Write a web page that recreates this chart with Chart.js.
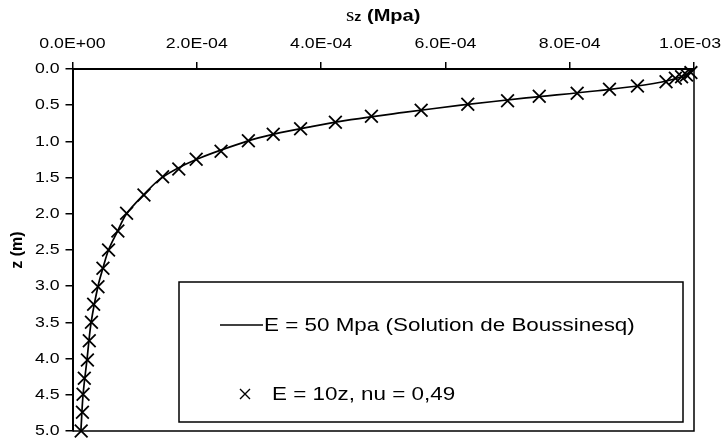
<!DOCTYPE html>
<html><head><meta charset="utf-8">
<script src="https://cdn.jsdelivr.net/npm/chart.js@4.4.0/dist/chart.umd.min.js"></script>
<style>html,body{margin:0;padding:0;background:#fff}</style>
</head><body>
<canvas id="c" width="722" height="444"></canvas>
<script>
const seriesNames = ['E = 50 Mpa (Solution de Boussinesq)', 'E = 10z, nu = 0,49'];
// Boussinesq solution (line): depth z (m) and stress (MPa)
const lineZ = [0, 0.1, 0.2, 0.3, 0.4, 0.5, 0.6, 0.7, 0.8, 0.9, 1.0, 1.25, 1.5, 1.75, 2.0, 2.25, 2.5, 2.75, 3.0, 3.5, 4.0, 4.5, 5.0];
const lineS = [1.0e-3, 9.82e-4, 9.35e-4, 8.45e-4, 7.30e-4, 6.25e-4, 5.33e-4, 4.48e-4, 3.82e-4, 3.24e-4, 2.80e-4, 1.99e-4, 1.44e-4, 1.13e-4, 0.87e-4, 0.72e-4, 0.58e-4, 0.49e-4, 0.41e-4, 0.30e-4, 0.235e-4, 0.17e-4, 0.135e-4];
// E = 10z model (crosses)
const crossZ = [0.05, 0.083, 0.106, 0.128, 0.175, 0.235, 0.28, 0.336, 0.377, 0.438, 0.488, 0.57, 0.653, 0.736, 0.825, 0.902, 0.99, 1.135, 1.247, 1.381, 1.488, 1.74, 1.993, 2.238, 2.5, 2.753, 3.007, 3.25, 3.499, 3.753, 4.019, 4.272, 4.493, 4.742, 5.0];
const crossS = [9.95e-4, 9.88e-4, 9.80e-4, 9.70e-4, 9.55e-4, 9.09e-4, 8.64e-4, 8.12e-4, 7.51e-4, 7.00e-4, 6.36e-4, 5.61e-4, 4.81e-4, 4.23e-4, 3.67e-4, 3.23e-4, 2.83e-4, 2.39e-4, 1.99e-4, 1.71e-4, 1.45e-4, 1.15e-4, 0.87e-4, 0.73e-4, 0.58e-4, 0.49e-4, 0.41e-4, 0.34e-4, 0.305e-4, 0.27e-4, 0.24e-4, 0.19e-4, 0.17e-4, 0.16e-4, 0.14e-4];
const xTickValues = [0, 2e-4, 4e-4, 6e-4, 8e-4, 1e-3];
const xTickLabels = ['0.0E+00', '2.0E-04', '4.0E-04', '6.0E-04', '8.0E-04', '1.0E-03'];
const yTickValues = [0, 0.5, 1, 1.5, 2, 2.5, 3, 3.5, 4, 4.5, 5];
const yTickLabels = ['0.0', '0.5', '1.0', '1.5', '2.0', '2.5', '3.0', '3.5', '4.0', '4.5', '5.0'];

const FONT = "'Liberation Sans', Arial, sans-serif";
const SX = 1.18; // horizontal text stretch seen in the reference

const canvas = document.getElementById('c');
const c2d = canvas.getContext('2d');
const _fillText = c2d.fillText;
c2d.fillText = function (t, x, y, mw) {
  const m = this.getTransform();
  if (Math.abs(m.b) > 1e-6 || Math.abs(m.c) > 1e-6) return _fillText.call(this, t, x, y, mw);
  // keep text inside the canvas (the original pulls edge labels inward)
  const w = this.measureText(String(t)).width * SX;
  const al = this.textAlign;
  const left = (al === 'center') ? x - w / 2 : (al === 'right' || al === 'end') ? x - w : x;
  const rightDev = m.a * (left + w) + m.e;
  const maxRight = this.canvas.width - 1;
  if (rightDev > maxRight) x -= (rightDev - maxRight) / m.a;
  this.save(); this.translate(x, y); this.scale(SX, 1);
  if (mw === undefined) _fillText.call(this, t, 0, 0); else _fillText.call(this, t, 0, 0, mw / SX);
  this.restore();
};

const framePlugin = {
  id: 'frame',
  afterDraw(chart) {
    const ctx = chart.ctx, a = chart.chartArea;
    ctx.save();
    ctx.strokeStyle = '#000';
    ctx.lineWidth = 1.5;
    ctx.beginPath();
    ctx.moveTo(a.right, a.top); ctx.lineTo(a.right, a.bottom); ctx.lineTo(a.left, a.bottom);
    ctx.stroke();
    // title "sz (Mpa)"
    const cx = (a.left + a.right) / 2, cy = 16;
    const parts = [
      {t: 's', f: "18px 'Liberation Serif', serif", dy: 0},
      {t: 'z', f: "bold 12px " + FONT, dy: 2},
      {t: ' (Mpa)', f: "bold 17px " + FONT, dy: 0}
    ];
    let w = 0;
    parts.forEach(p => { ctx.font = p.f; p.w = ctx.measureText(p.t).width * SX; w += p.w; });
    let x = cx - w / 2;
    ctx.fillStyle = '#000'; ctx.textBaseline = 'middle'; ctx.textAlign = 'left';
    parts.forEach(p => { ctx.font = p.f; ctx.fillText(p.t, x, cy + p.dy); x += p.w; });
    // legend
    const L = {x: 179, y: 282, w: 504, h: 140};
    ctx.fillStyle = '#fff';
    ctx.fillRect(L.x, L.y, L.w, L.h);
    ctx.lineWidth = 1.5; ctx.strokeStyle = '#000';
    ctx.strokeRect(L.x, L.y, L.w, L.h);
    ctx.font = "19px " + FONT; ctx.fillStyle = '#000';
    ctx.beginPath(); ctx.moveTo(220, 325); ctx.lineTo(263, 325); ctx.lineWidth = 1.5; ctx.stroke();
    ctx.fillText(seriesNames[0], 264, 326);
    const r = 5;
    ctx.beginPath();
    ctx.moveTo(245 - r, 394 - r); ctx.lineTo(245 + r, 394 + r);
    ctx.moveTo(245 - r, 394 + r); ctx.lineTo(245 + r, 394 - r);
    ctx.lineWidth = 1.4; ctx.stroke();
    ctx.fillText(seriesNames[1], 272, 395);
    ctx.restore();
  }
};

new Chart(canvas, {
  type: 'scatter',
  data: {
    datasets: [
      {
        label: seriesNames[1],
        data: crossZ.map((z, i) => ({x: crossS[i], y: z})),
        showLine: false,
        pointStyle: 'crossRot',
        pointRadius: 9,
        pointBorderWidth: 1.8,
        borderColor: '#000',
        backgroundColor: '#000',
        clip: false,
        order: 0
      },
      {
        label: seriesNames[0],
        data: lineZ.map((z, i) => ({x: lineS[i], y: z})),
        showLine: true,
        pointRadius: 0,
        borderColor: '#000',
        borderWidth: 1.7,
        tension: 0.35,
        clip: false,
        order: 1
      }
    ]
  },
  plugins: [framePlugin],
  options: {
    responsive: false,
    animation: false,
    devicePixelRatio: 1,
    layout: {padding: {left: 0, top: 0, right: 28, bottom: 13}},
    plugins: {legend: {display: false}, tooltip: {enabled: false}},
    scales: {
      x: {
        type: 'linear', position: 'top', min: 0, max: 1e-3,
        afterBuildTicks: s => { s.ticks = xTickValues.map(v => ({value: v})); },
        afterFit: s => { s.height = 69; s.paddingLeft = 0; s.paddingRight = 0; },
        ticks: {callback: (v, i) => xTickLabels[i], color: '#000', font: {family: FONT, size: 15}, padding: 9, maxRotation: 0, autoSkip: false},
        grid: {drawOnChartArea: false, drawTicks: true, tickLength: 7, color: '#000', lineWidth: 1.5},
        border: {display: true, color: '#000', width: 2}
      },
      y: {
        type: 'linear', position: 'left', reverse: true, min: 0, max: 5,
        afterBuildTicks: s => { s.ticks = yTickValues.map(v => ({value: v})); },
        afterFit: s => { s.width = 72.5; s.paddingTop = 0; s.paddingBottom = 0; },
        ticks: {callback: (v, i) => yTickLabels[i], color: '#000', font: {family: FONT, size: 15}, padding: 6, autoSkip: false},
        grid: {drawOnChartArea: false, drawTicks: true, tickLength: 7, color: '#000', lineWidth: 1.5},
        border: {display: true, color: '#000', width: 2},
        title: {display: true, text: 'z (m)', color: '#000', font: {family: FONT, size: 16, weight: 'bold'}, padding: {top: 8, bottom: 0}}
      }
    }
  }
});
</script>
</body></html>
